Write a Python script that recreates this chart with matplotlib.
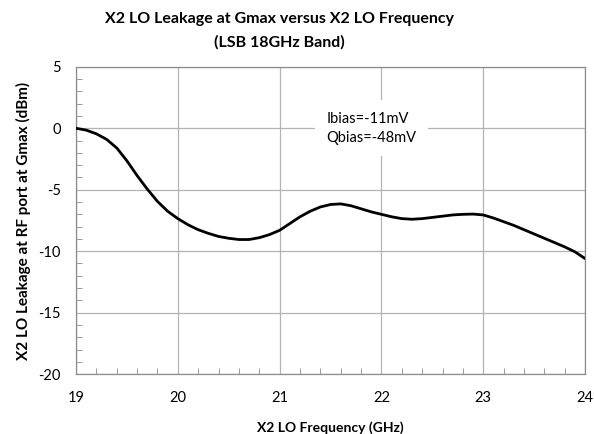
import matplotlib
matplotlib.use("Agg")
import matplotlib.pyplot as plt
from matplotlib.ticker import MultipleLocator

plt.rcParams['font.family'] = ['Lato', 'DejaVu Sans']
plt.rcParams['axes.unicode_minus'] = False

# 读图得到的数据 (GHz, dBm)
freq = [19.0, 19.1, 19.2, 19.3, 19.4, 19.5, 19.6, 19.7, 19.8, 19.9,
        20.0, 20.1, 20.2, 20.3, 20.4, 20.5, 20.6, 20.7, 20.8, 20.9,
        21.0, 21.1, 21.2, 21.3, 21.4, 21.5, 21.6, 21.7, 21.8, 21.9,
        22.0, 22.1, 22.2, 22.3, 22.4, 22.5, 22.6, 22.7, 22.8, 22.9,
        23.0, 23.1, 23.2, 23.3, 23.4, 23.5, 23.6, 23.7, 23.8, 23.9, 24.0]
leakage = [0.0, -0.15, -0.45, -0.9, -1.6, -2.65, -3.85, -4.95, -5.95, -6.75,
           -7.35, -7.85, -8.25, -8.55, -8.8, -8.95, -9.05, -9.05, -8.9, -8.65,
           -8.3, -7.75, -7.2, -6.75, -6.4, -6.2, -6.15, -6.3, -6.55, -6.8,
           -7.0, -7.2, -7.35, -7.4, -7.35, -7.25, -7.15, -7.05, -7.0, -6.98,
           -7.05, -7.3, -7.6, -7.9, -8.25, -8.6, -8.95, -9.3, -9.65, -10.05, -10.6]

title = "X2 LO Leakage at Gmax versus X2 LO Frequency\n(LSB 18GHz Band)"
note = "Ibias=-11mV\nQbias=-48mV"

fig = plt.figure(figsize=(5.94, 4.34), dpi=100)
ax = fig.add_axes([0.128, 0.138, 0.857, 0.708])

ax.plot(freq, leakage, color='black', linewidth=2.0, solid_capstyle='round', zorder=3)

ax.set_xlim(19, 24)
ax.set_ylim(-20, 5)
ax.xaxis.set_major_locator(MultipleLocator(1))
ax.xaxis.set_minor_locator(MultipleLocator(0.2))
ax.yaxis.set_major_locator(MultipleLocator(5))
ax.yaxis.set_minor_locator(MultipleLocator(1))
ax.grid(True, which='major', color='#b3b3b3', linewidth=0.9)
ax.set_axisbelow(True)

for s in ax.spines.values():
    s.set_color('#8c8c8c')
    s.set_linewidth(0.9)
ax.tick_params(which='both', direction='in', color='#8c8c8c', top=False, right=False)
ax.tick_params(which='major', length=0, labelsize=10.5)
ax.tick_params(axis='x', which='major', pad=12)
ax.tick_params(axis='y', which='major', pad=11)
ax.tick_params(which='minor', length=4)

ax.set_xlabel("X2 LO Frequency (GHz)", fontsize=10, fontweight='bold', labelpad=12)
ax.set_ylabel("X2 LO Leakage at RF port at Gmax (dBm)", fontsize=11, fontweight='bold', labelpad=5)
fig.text(0.471, 0.972, title, fontsize=11.5, fontweight='bold', ha='center', va='top',
         linespacing=1.75)

ax.text(21.46, 0.0, note, fontsize=10.5, ha='left', va='center', linespacing=1.5,
        bbox=dict(facecolor='white', edgecolor='none', pad=8), zorder=4)

fig.savefig("out.png", dpi=100)
